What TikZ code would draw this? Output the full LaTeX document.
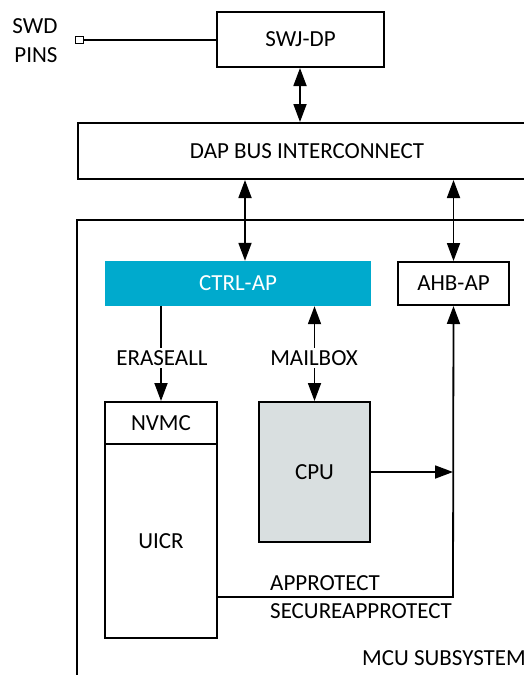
\documentclass[tikz,border=0pt]{standalone}
\usepackage{fontspec}
\setmainfont{Carlito}
\usetikzlibrary{arrows.meta,calc}
\definecolor{ctrlblue}{RGB}{0,170,205}
\definecolor{cpugray}{RGB}{217,223,224}
\begin{document}
\begin{tikzpicture}[x=1pt,y=-1pt,
  every node/.style={font=\fontsize{23}{28}\selectfont, inner sep=0pt},
  box/.style={draw, line width=2pt, rectangle},
  conn/.style={line width=1.8pt},
  tip/.style={-{Triangle[length=18pt,width=13pt]}},
  dtip/.style={{Triangle[length=18pt,width=13pt]}-{Triangle[length=18pt,width=13pt]}},
  lbl/.style={fill=white, inner sep=2pt}
]
\useasboundingbox (0,0) rectangle (524,675);

% boxes
\node[box, minimum width=167pt, minimum height=55pt] (swj) at (300.5,39.5) {SWJ-DP};
\node[box, minimum width=458pt, minimum height=56pt] (dap) at (307,151) {DAP BUS INTERCONNECT};
\node[box, minimum width=523pt, minimum height=500pt] (mcu) at (338.5,470) {};
\node[fill=ctrlblue, text=white, minimum width=266pt, minimum height=45pt] (ctrl) at (238,283.5) {CTRL-AP};
\node[box, minimum width=111pt, minimum height=43pt] (ahb) at (453.5,283.5) {AHB-AP};
\node[box, minimum width=112pt, minimum height=42pt] (nvmc) at (161,423) {NVMC};
\node[box, minimum width=112pt, minimum height=194pt] (uicr) at (161,541) {UICR};
\node[box, fill=cpugray, minimum width=111pt, minimum height=140pt] (cpu) at (314.5,472) {CPU};

% SWD pins
\node[anchor=base] (swd) at (35,33) {SWD};
\node[anchor=base] (pins) at (36,62) {PINS};
\node[draw, line width=1pt, minimum width=8pt, minimum height=7pt] (pin) at (79.5,40) {};
\draw[line width=1.2pt] (pin.east) -- (pin.east -| swj.west);

% connectors
\draw[conn, dtip] (swj.south -| 300,0) -- (dap.north -| 300,0);
\draw[conn, dtip] ([xshift=7pt]ctrl.north |- dap.south) -- ([xshift=7pt]ctrl.north);
\draw[conn, dtip] (ahb.north |- dap.south) -- (ahb.north);
\draw[conn, tip] (nvmc.north |- ctrl.south) -- (nvmc.north);
\draw[conn, dtip] (cpu.north |- ctrl.south) -- (cpu.north);
\node[lbl] (erase) at (162,358) {ERASEALL};
\node[lbl] (mail) at (314,358) {MAILBOX};

\coordinate (ap) at (453,597);
\draw[conn, tip] (cpu.east) -- (cpu.east -| ap);
\draw[conn, tip] (ap -| uicr.east) -- (ap) -- (ahb.south);

% labels
\node[anchor=base west] (approt) at (270,590) {APPROTECT};
\node[anchor=base west] (secap) at (270,618) {SECUREAPPROTECT};
\node[anchor=base west] (mcul) at (362,665) {MCU SUBSYSTEM};
\end{tikzpicture}
\end{document}
